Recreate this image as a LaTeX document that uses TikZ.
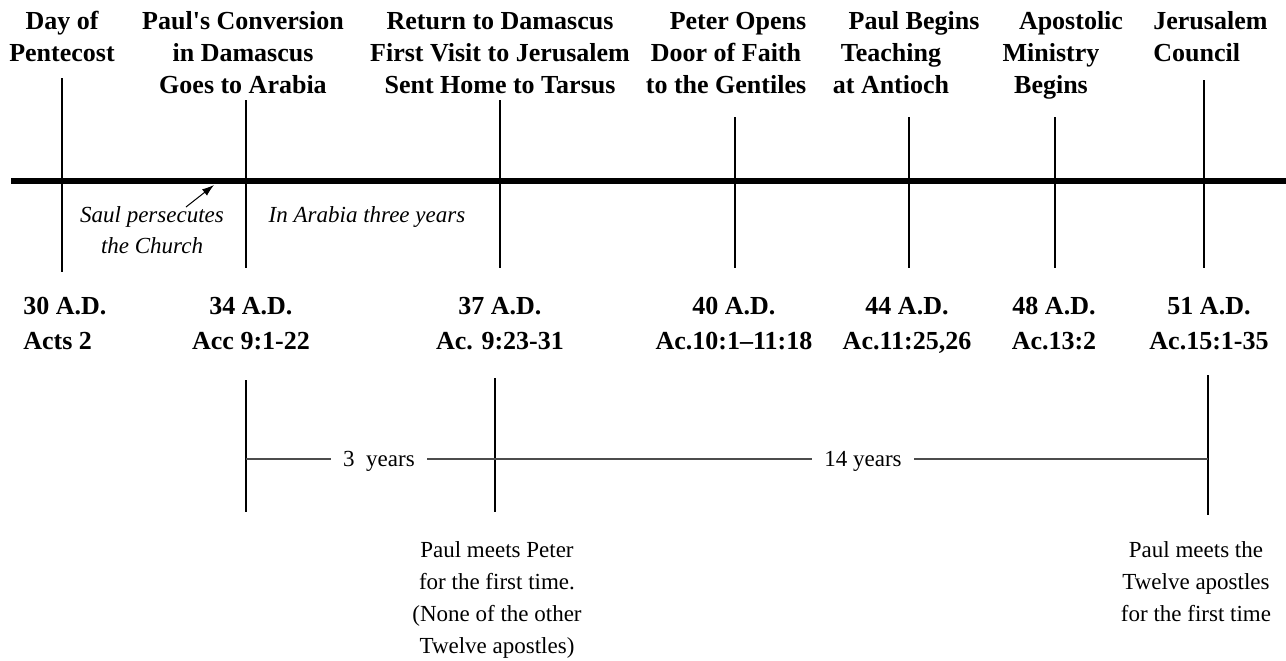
\documentclass[tikz,border=0pt]{standalone}
\usepackage{fontspec}
\setmainfont{Liberation Serif}
\usetikzlibrary{positioning, arrows.meta}
% straight apostrophe, not turned into a curly one
\newcommand{\squote}{\XeTeXglyph\XeTeXcharglyph"27\relax}

\begin{document}
\begin{tikzpicture}[x=0.5pt, y=-0.5pt,
  event/.style={font=\fontsize{13}{16}\selectfont\bfseries, align=center, anchor=base, inner sep=0pt},
  date/.style={font=\fontsize{13}{17.5}\selectfont\bfseries, align=center, anchor=base, inner sep=0pt},
  note/.style={font=\fontsize{11.5}{15.5}\selectfont\itshape, align=center, anchor=base, inner sep=0pt},
  remark/.style={font=\fontsize{11.5}{16}\selectfont, align=center, anchor=base, inner sep=0pt},
  tick/.style={line width=1.25pt},
  span/.style={line width=0.7pt},
]
\useasboundingbox (0,0) rectangle (1286,660);

% Events above the time line (base = last line)
\node[event] (pentecost) at (62,61) {Day of\\Pentecost};
\node[event] (conversion) at (243,93) {Paul\squote s Conversion\\in Damascus\\Goes to Arabia};
\node[event] (return) at (500,93) {Return to Damascus\\First Visit to Jerusalem\\Sent Home to Tarsus};
\node[event] (gentiles) at (726,93) {\hspace*{12pt}Peter Opens\\Door of Faith\\to the Gentiles};
\node[event] (antioch) at (891,93) {\hspace*{23pt}Paul Begins\\Teaching\\at Antioch};
\node[event] (apostolic) at (1051,93) {\hspace*{20pt}Apostolic\\Ministry\\Begins};
\node[event, align=left, anchor=base west] (council) at (1153,61) {Jerusalem\\Council};

% Time line and ticks
\draw[line width=3pt] (11,181) -- (1286,181);
\draw[tick] (62,78) -- (62,272);
\draw[tick] (246,100) -- (246,268);
\draw[tick] (500,100) -- (500,268);
\draw[tick] (735,117) -- (735,268);
\draw[tick] (909,117) -- (909,268);
\draw[tick] (1055,117) -- (1055,268);
\draw[tick] (1204,80) -- (1204,268);

% Notes under the line
\node[note] (persecute) at (152,253) {Saul persecutes\\the Church};
\node[note] (arabia) at (367,222) {In Arabia three years};
\coordinate (tail) at (186,207);
\coordinate (hit) at (214,185);
\draw[line width=0.5pt, -{Latex[length=6pt, width=4pt]}] (tail) -- (hit);

% Dates and references
\node[date, align=left, anchor=base west] (d30) at (23,349) {30 A.D.\\Acts 2};
\node[date] (d34) at (251,349) {34 A.D.\\Acc 9:1-22};
\node[date] (d37) at (500,349) {37 A.D.\\Ac. 9:23-31};
\node[date] (d40) at (734,349) {40 A.D.\\Ac.10:1–11:18};
\node[date] (d44) at (907,349) {44 A.D.\\Ac.11:25,26};
\node[date] (d48) at (1054,349) {48 A.D.\\Ac.13:2};
\node[date] (d51) at (1209,349) {51 A.D.\\Ac.15:1-35};

% Spans between the visits
\coordinate (s34) at (246,459);
\coordinate (s37) at (495,459);
\coordinate (s51) at (1208,459);
\draw[span] (246,380) -- (246,512);
\draw[span] (495,378) -- (495,512);
\draw[span] (1208,375) -- (1208,515);
\draw[span, black!70] (s34) -- (s51);
\node[remark, fill=white, inner xsep=6pt] (three) at (379,466) {3\ \ years};
\node[remark, fill=white, inner xsep=6pt] (fourteen) at (863,466) {14 years};

% Remarks at the bottom
\node[remark] (peter) at (497,653) {Paul meets Peter\\for the first time.\\(None of the other\\Twelve apostles)};
\node[remark] (twelve) at (1196,621) {Paul meets the\\Twelve apostles\\for the first time};

\end{tikzpicture}
\end{document}
